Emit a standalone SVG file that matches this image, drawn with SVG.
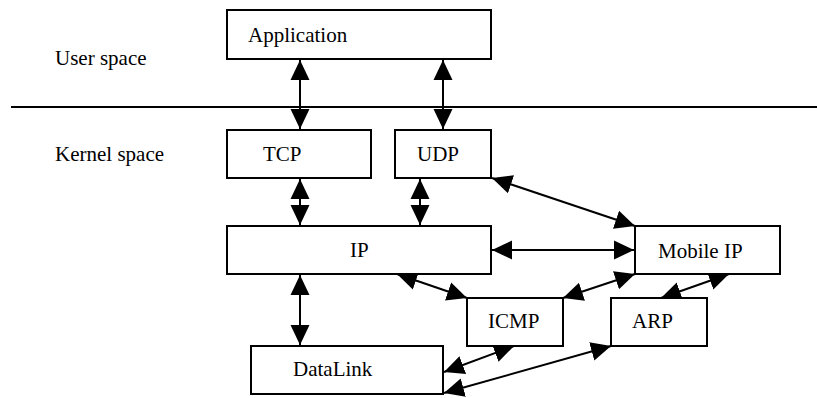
<svg xmlns="http://www.w3.org/2000/svg" width="817" height="398" viewBox="0 0 817 398" font-family="'Liberation Serif', serif">
  <style>
    .box { fill: #ffffff; stroke: #000000; stroke-width: 2; }
    .lbl { font-size: 21px; fill: #000000; }
    .link { stroke: #000000; stroke-width: 2; fill: none; marker-start: url(#head); marker-end: url(#head); }
    .rule { stroke: #000000; stroke-width: 2; }
  </style>
  <defs>
    <marker id="head" markerUnits="userSpaceOnUse" markerWidth="20" markerHeight="20" refX="20" refY="10" orient="auto-start-reverse" viewBox="0 0 20 20">
      <path d="M0,0.5 L20,10 L0,19.5 z" fill="#000000"/>
    </marker>
  </defs>

  <rect width="817" height="398" fill="#ffffff"/>

  <!-- user / kernel boundary -->
  <line class="rule" x1="11" y1="107" x2="817" y2="107"/>
  <text class="lbl" x="55" y="65">User space</text>
  <text class="lbl" x="55" y="161">Kernel space</text>

  <g id="connectors">
    <line class="link" x1="300" y1="60" x2="300" y2="129"/>
    <line class="link" x1="443" y1="60" x2="443" y2="129"/>
    <line class="link" x1="300" y1="179" x2="300" y2="225"/>
    <line class="link" x1="420" y1="179" x2="420" y2="225"/>
    <line class="link" x1="300" y1="275" x2="300" y2="345"/>
    <line class="link" x1="492" y1="250" x2="634" y2="250"/>
    <line class="link" x1="492" y1="178" x2="635" y2="226"/>
    <line class="link" x1="397" y1="274" x2="467" y2="298"/>
    <line class="link" x1="563" y1="298" x2="635" y2="274"/>
    <line class="link" x1="661" y1="298" x2="729" y2="274"/>
    <line class="link" x1="444" y1="372" x2="514" y2="346"/>
    <line class="link" x1="444" y1="393" x2="611" y2="346"/>
  </g>

  <g id="application">
    <rect class="box" x="227" y="10" width="264" height="49"/>
    <text class="lbl" x="248" y="42">Application</text>
  </g>
  <g id="tcp">
    <rect class="box" x="227" y="130" width="144" height="48"/>
    <text class="lbl" x="263" y="161">TCP</text>
  </g>
  <g id="udp">
    <rect class="box" x="395" y="130" width="96" height="48"/>
    <text class="lbl" x="417" y="161">UDP</text>
  </g>
  <g id="ip">
    <rect class="box" x="227" y="226" width="264" height="48"/>
    <text class="lbl" x="350" y="257">IP</text>
  </g>
  <g id="mobile-ip">
    <rect class="box" x="635" y="226" width="145" height="48"/>
    <text class="lbl" x="658" y="258" font-size="22">Mobile IP</text>
  </g>
  <g id="icmp">
    <rect class="box" x="467" y="298" width="96" height="48"/>
    <text class="lbl" x="488" y="328">ICMP</text>
  </g>
  <g id="arp">
    <rect class="box" x="611" y="298" width="96" height="48"/>
    <text class="lbl" x="632" y="328">ARP</text>
  </g>
  <g id="datalink">
    <rect class="box" x="251" y="346" width="192" height="48"/>
    <text class="lbl" x="293" y="376">DataLink</text>
  </g>
</svg>
